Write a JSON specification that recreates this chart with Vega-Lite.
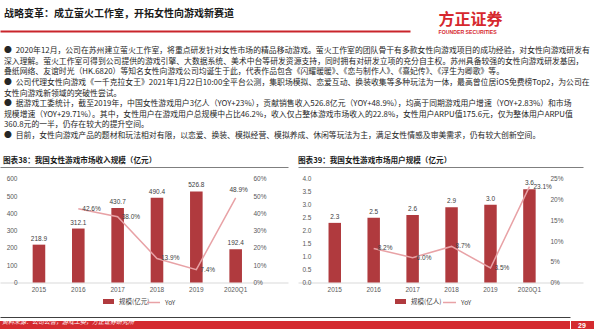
{
  "$schema": "https://vega.github.io/schema/vega-lite/v6.json",
  "background": "white",
  "padding": {"left": 0, "top": 9, "right": 0, "bottom": 0},
  "spacing": 11,
  "config": {
    "font": "Noto Sans CJK SC",
    "view": {"stroke": null},
    "axis": {"labelFont": "Liberation Sans", "labelFontSize": 6.5, "labelColor": "#595959", "ticks": false, "grid": false, "domain": false},
    "legend": {"labelFont": "Noto Sans CJK SC", "labelFontSize": 6.5, "labelColor": "#404040", "padding": 0},
    "title": {"font": "Noto Sans CJK SC", "anchor": "start"},
    "text": {"font": "Liberation Sans", "fontSize": 6.5, "fill": "#404040"}
  },
  "resolve": {"scale": {"fill": "independent", "stroke": "independent"}},
  "vconcat": [
    {
      "spacing": 0,
      "hconcat": [
        {
          "width": 410,
          "height": 7,
          "title": {"text": "战略变革：成立萤火工作室，开拓女性向游戏新赛道", "fontSize": 10, "fontWeight": "bold", "color": "#1a1a1a", "dx": 4, "offset": 5},
          "data": {"values": [{"v": 0}]},
          "mark": {"type": "rule", "opacity": 0},
          "encoding": {
            "x": {"field": "v", "type": "quantitative", "scale": {"domain": [0, 1]}, "axis": {"orient": "bottom", "domain": true, "domainColor": "#c9252b", "domainWidth": 2, "labels": false, "ticks": false, "title": null, "grid": false}}
          }
        },
        {
          "width": 184,
          "height": 7,
          "title": {"text": "方正证券", "subtitle": "FOUNDER SECURITIES", "fontSize": 16, "fontWeight": "bold", "color": "#d6282e", "subtitleFontSize": 5.2, "subtitleColor": "#d6282e", "subtitleFontWeight": "bold", "subtitleFont": "Liberation Sans", "subtitlePadding": 2.5, "dx": 28, "offset": -12},
          "data": {"values": [{}]},
          "mark": {"type": "rule", "opacity": 0},
          "encoding": {}
        }
      ]
    },
    {
      "title": {
        "text": [
          "●\u20022020年12月，公司在苏州建立萤火工作室，将重点研发针对女性市场的精品移动游戏。萤火工作室的团队骨干有多款女性向游戏项目的成功经验，对女性向游戏研发有",
          "\u3000\u2002深入理解。萤火工作室可得到公司提供的游戏引擎、大数据系统、美术中台等研发资源支持，同时拥有对研发立项的充分自主权。苏州具备较强的女性向游戏研发基因，",
          "\u3000\u2002叠纸网络、友谊时光（HK.6820）等知名女性向游戏公司均诞生于此，代表作品包含《闪耀暖暖》、《恋与制作人》、《熹妃传》、《浮生为卿歌》等。",
          "●\u2002公司代理女性向游戏《一千克拉女王》2021年1月22日10:00全平台公测，集职场模拟、恋爱互动、换装收集等多种玩法为一体，最高曾位居iOS免费榜Top2，为公司在",
          "\u3000\u2002女性向游戏新领域的突破性尝试。",
          "●\u2002据游戏工委统计，截至2019年，中国女性游戏用户3亿人（YOY+23%），贡献销售收入526.8亿元（YOY+48.9%），均高于同期游戏用户增速（YOY+2.83%）和市场",
          "\u3000\u2002规模增速（YOY+29.71%）。其中，女性用户在游戏用户总规模中占比46.2%，收入仅占整体游戏市场收入的22.8%，女性用户ARPU值175.6元，仅为整体用户ARPU值",
          "\u3000\u2002360.8元的一半，仍存在较大的提升空间。",
          "●\u2002目前，女性向游戏产品的题材和玩法相对有限，以恋爱、换装、模拟经营、模拟养成、休闲等玩法为主，满足女性情感及审美需求，仍有较大创新空间。"
        ],
        "fontSize": 7.84,
        "fontWeight": "normal",
        "color": "#262626",
        "lineHeight": 10.6,
        "dx": 4,
        "offset": 17.5,
        "anchor": "start"
      },
      "spacing": 10,
      "resolve": {"scale": {"fill": "independent", "stroke": "independent"}},
      "hconcat": [
        {
          "width": 288,
          "height": 115.5,
          "title": {"text": "图表38：我国女性游戏市场收入规模（亿元）", "fontSize": 7.6, "fontWeight": "bold", "color": "#1a1a1a", "dx": 3, "offset": 2},
          "data": {"values": [
            {"year": "2015", "scale": 218.9, "yoy": null},
            {"year": "2016", "scale": 312.1, "yoy": 0.426},
            {"year": "2017", "scale": 430.7, "yoy": 0.380},
            {"year": "2018", "scale": 490.4, "yoy": 0.139},
            {"year": "2019", "scale": 526.8, "yoy": 0.074},
            {"year": "2020Q1", "scale": 192.4, "yoy": 0.489}
          ]},
          "layer": [
            {
              "mark": {"type": "bar", "stroke": null},
              "encoding": {
                "x": {"field": "year", "type": "nominal", "sort": null, "scale": {"type": "band", "paddingInner": 0.68, "paddingOuter": 1.18, "align": 0.415}, "axis": {"orient": "bottom", "labelAngle": 0, "labelPadding": 4, "domain": true, "domainColor": "#d9d9d9", "ticks": false, "title": null}},
                "y": {"field": "scale", "type": "quantitative", "scale": {"domain": [0, 668]}, "axis": {"orient": "left", "values": [0, 100, 200, 300, 400, 500, 600], "format": "d", "offset": -20, "labelPadding": 3, "title": null}},
                "fill": {"datum": "规模(亿元)", "scale": {"range": ["#b03a3e"]}, "legend": {"orient": "none", "legendX": 102, "legendY": 128, "title": null, "symbolType": "M-1,-0.45H1V0.45H-1Z", "symbolSize": 121}}
              }
            },
            {
              "mark": {"type": "text", "baseline": "bottom", "dy": -3},
              "encoding": {
                "x": {"field": "year", "type": "nominal", "sort": null, "scale": {"type": "band", "paddingInner": 0.68, "paddingOuter": 1.18, "align": 0.415}, "axis": {"orient": "top", "domain": true, "domainColor": "#7f7f7f", "domainWidth": 1, "labels": false, "ticks": false, "title": null}},
                "y": {"field": "scale", "type": "quantitative", "scale": {"domain": [0, 668]}, "axis": null},
                "text": {"field": "scale", "type": "quantitative", "format": ".1f"}
              }
            },
            {
              "mark": {"type": "line", "strokeWidth": 1.5},
              "encoding": {
                "x": {"field": "year", "type": "nominal", "sort": null, "scale": {"type": "band", "paddingInner": 0.68, "paddingOuter": 1.18, "align": 0.415}, "axis": null},
                "y": {"field": "yoy", "type": "quantitative", "scale": {"domain": [0, 0.668]}, "axis": {"orient": "right", "values": [0, 0.1, 0.2, 0.3, 0.4, 0.5, 0.6], "format": ".0%", "offset": -38, "labelPadding": 3, "title": null}},
                "stroke": {"datum": "YoY", "scale": {"range": ["#e8a2a6"]}, "legend": {"orient": "none", "legendX": 146, "legendY": 128, "title": null, "symbolType": "stroke", "symbolSize": 169, "symbolStrokeWidth": 1.5}}
              }
            },
            {
              "transform": [{"filter": "datum.year !== '2020Q1'"}],
              "mark": {"type": "text", "align": "left", "baseline": "middle", "dx": 4},
              "encoding": {
                "x": {"field": "year", "type": "nominal", "sort": null, "scale": {"type": "band", "paddingInner": 0.68, "paddingOuter": 1.18, "align": 0.415}, "axis": null},
                "y": {"field": "yoy", "type": "quantitative", "scale": {"domain": [0, 0.668]}, "axis": null},
                "text": {"field": "yoy", "type": "quantitative", "format": ".1%"}
              }
            },
            {
              "transform": [{"filter": "datum.year === '2020Q1'"}],
              "mark": {"type": "text", "align": "center", "baseline": "bottom", "dx": 3, "dy": -5},
              "encoding": {
                "x": {"field": "year", "type": "nominal", "sort": null, "scale": {"type": "band", "paddingInner": 0.68, "paddingOuter": 1.18, "align": 0.415}, "axis": null},
                "y": {"field": "yoy", "type": "quantitative", "scale": {"domain": [0, 0.668]}, "axis": null},
                "text": {"field": "yoy", "type": "quantitative", "format": ".1%"}
              }
            }
          ],
          "resolve": {"scale": {"y": "independent"}, "axis": {"x": "independent"}}
        },
        {
          "width": 285,
          "height": 115.5,
          "title": {"text": "图表39：我国女性游戏市场用户规模（亿元）", "fontSize": 7.6, "fontWeight": "bold", "color": "#1a1a1a", "dx": 0, "offset": 2},
          "data": {"values": [
            {"year": "2015", "scale": 2.3, "yoy": null},
            {"year": "2016", "scale": 2.5, "yoy": 0.082},
            {"year": "2017", "scale": 2.6, "yoy": 0.060},
            {"year": "2018", "scale": 2.9, "yoy": 0.087},
            {"year": "2019", "scale": 3.0, "yoy": 0.035},
            {"year": "2020Q1", "scale": 3.6, "yoy": 0.231}
          ]},
          "layer": [
            {
              "mark": {"type": "bar", "stroke": null},
              "encoding": {
                "x": {"field": "year", "type": "nominal", "sort": null, "scale": {"type": "band", "paddingInner": 0.68, "paddingOuter": 1.13, "align": 0.392}, "axis": {"orient": "bottom", "labelAngle": 0, "labelPadding": 4, "domain": true, "domainColor": "#d9d9d9", "ticks": false, "title": null}},
                "y": {"field": "scale", "type": "quantitative", "scale": {"domain": [0, 4.455]}, "axis": {"orient": "left", "values": [0, 0.5, 1, 1.5, 2, 2.5, 3, 3.5, 4], "format": ".1f", "offset": -16, "labelPadding": 3, "title": null}},
                "fill": {"datum": "规模(亿人)", "scale": {"range": ["#b03a3e"]}, "legend": {"orient": "none", "legendX": 96, "legendY": 128, "title": null, "symbolType": "M-1,-0.45H1V0.45H-1Z", "symbolSize": 121}}
              }
            },
            {
              "mark": {"type": "text", "baseline": "bottom", "dy": -3},
              "encoding": {
                "x": {"field": "year", "type": "nominal", "sort": null, "scale": {"type": "band", "paddingInner": 0.68, "paddingOuter": 1.13, "align": 0.392}, "axis": {"orient": "top", "domain": true, "domainColor": "#7f7f7f", "domainWidth": 1, "labels": false, "ticks": false, "title": null}},
                "y": {"field": "scale", "type": "quantitative", "scale": {"domain": [0, 4.455]}, "axis": null},
                "text": {"field": "scale", "type": "quantitative", "format": ".1f"}
              }
            },
            {
              "mark": {"type": "line", "strokeWidth": 1.5},
              "encoding": {
                "x": {"field": "year", "type": "nominal", "sort": null, "scale": {"type": "band", "paddingInner": 0.68, "paddingOuter": 1.13, "align": 0.392}, "axis": null},
                "y": {"field": "yoy", "type": "quantitative", "scale": {"domain": [0, 0.2784]}, "axis": {"orient": "right", "values": [0, 0.05, 0.1, 0.15, 0.2, 0.25], "format": ".0%", "offset": -36, "labelPadding": 3, "title": null}},
                "stroke": {"datum": "YoY", "scale": {"range": ["#e8a2a6"]}, "legend": {"orient": "none", "legendX": 144, "legendY": 128, "title": null, "symbolType": "stroke", "symbolSize": 169, "symbolStrokeWidth": 1.5}}
              }
            },
            {
              "mark": {"type": "text", "align": "left", "baseline": "middle", "dx": 4},
              "encoding": {
                "x": {"field": "year", "type": "nominal", "sort": null, "scale": {"type": "band", "paddingInner": 0.68, "paddingOuter": 1.13, "align": 0.392}, "axis": null},
                "y": {"field": "yoy", "type": "quantitative", "scale": {"domain": [0, 0.2784]}, "axis": null},
                "text": {"field": "yoy", "type": "quantitative", "format": ".1%"}
              }
            }
          ],
          "resolve": {"scale": {"y": "independent"}, "axis": {"x": "independent"}}
        }
      ]
    },
    {
      "spacing": 0,
      "hconcat": [
        {
          "width": 570,
          "height": 9.5,
          "view": {"fill": "#d42a2f", "stroke": null},
          "title": {"text": "资料来源：公司公告，游戏工委，方正证券研究所", "fontSize": 6, "fontStyle": "italic", "fontWeight": "normal", "color": "#ffffff", "dx": 2, "offset": -8.3, "frame": "group"},
          "data": {"values": [{"v": 0}]},
          "mark": {"type": "rule", "opacity": 0},
          "encoding": {
            "x": {"field": "v", "type": "quantitative", "scale": {"domain": [0, 1]}, "axis": {"orient": "top", "offset": 4, "domain": true, "domainColor": "#404040", "domainWidth": 1, "labels": false, "ticks": false, "title": null, "grid": false}}
          }
        },
        {
          "width": 24,
          "height": 9.5,
          "view": {"fill": "#d42a2f", "stroke": null},
          "title": {"text": "29", "font": "Liberation Sans", "fontSize": 7, "fontWeight": "bold", "color": "#ffffff", "dx": 7, "offset": -8.3, "frame": "group"},
          "data": {"values": [{}]},
          "mark": {"type": "rule", "opacity": 0},
          "encoding": {}
        }
      ]
    }
  ]
}
